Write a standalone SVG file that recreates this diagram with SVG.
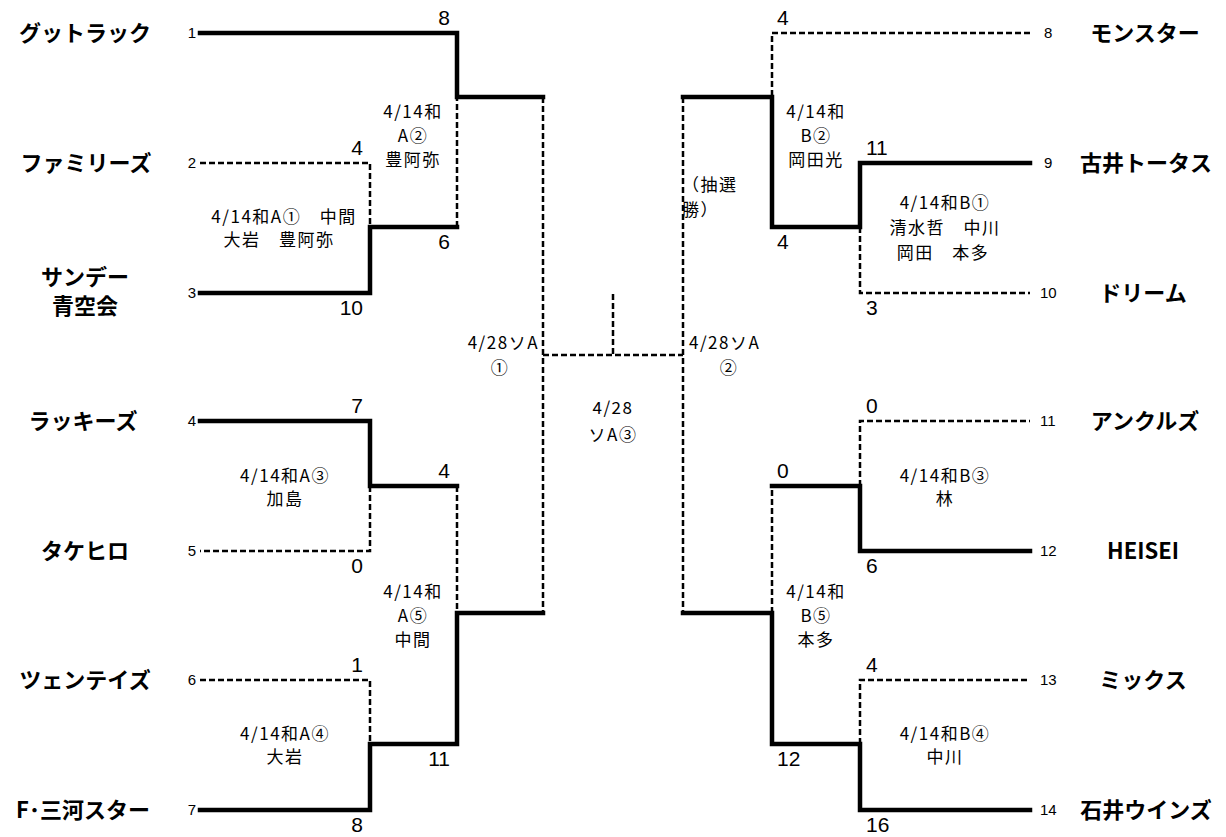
<svg xmlns="http://www.w3.org/2000/svg" width="1226" height="837" viewBox="0 0 1226 837">
<style>
.thick{fill:none;stroke:#000;stroke-width:4.5;stroke-linejoin:miter;stroke-linecap:square}
.dash{fill:none;stroke:#000;stroke-width:2.5;stroke-dasharray:6 3}
.team{font-family:"Noto Sans CJK JP","Noto Sans",sans-serif;font-weight:bold;font-size:22px;text-anchor:middle;fill:#000}
.seed{font-family:"Liberation Sans",Arial,sans-serif;font-size:15px;fill:#000}
.score{font-family:"Liberation Sans",Arial,sans-serif;font-size:21px;fill:#000}
.lbl{font-family:"Noto Sans CJK JP","Noto Sans",sans-serif;font-size:17px;text-anchor:middle;fill:#000;letter-spacing:1.5px}
.l{text-anchor:end}
.r{text-anchor:start}
</style>
<rect width="1226" height="837" fill="#fff"/>
<g id="connectors">
<path class="thick" d="M200 33 H457 V97 H543"/>
<path class="dash" d="M200 163 H370 V227"/>
<path class="thick" d="M200 293 H370 V227 H457"/>
<path class="dash" d="M457 227 V97"/>
<path class="dash" d="M543 97 V613"/>
<path class="thick" d="M200 421 H370 V486 H457"/>
<path class="dash" d="M370 486 V551 H200"/>
<path class="dash" d="M457 486 V613"/>
<path class="thick" d="M543 613 H457 V744 H370 V810 H200"/>
<path class="dash" d="M200 680 H370 V744"/>
<path class="dash" d="M543 355 H683"/>
<path class="dash" d="M613 294 V355"/>
<path class="dash" d="M1030 33 H772 V97"/>
<path class="thick" d="M683 97 H772 V227 H860 V163 H1030"/>
<path class="dash" d="M860 227 V293 H1030"/>
<path class="dash" d="M683 97 V613"/>
<path class="thick" d="M683 613 H772 V744 H860 V810 H1030"/>
<path class="dash" d="M772 613 V486"/>
<path class="thick" d="M772 486 H860 V551 H1030"/>
<path class="dash" d="M860 486 V421 H1030"/>
<path class="dash" d="M860 744 V680 H1030"/>
</g>
<g id="team1"><text class="team" x="85" y="41">グットラック</text><text class="seed l" x="196" y="38">1</text></g>
<g id="team2"><text class="team" x="86" y="171">ファミリーズ</text><text class="seed l" x="196" y="168">2</text></g>
<g id="team3"><text class="team" x="85" y="285">サンデー</text><text class="team" x="85" y="314">青空会</text><text class="seed l" x="196" y="298">3</text></g>
<g id="team4"><text class="team" x="83" y="429">ラッキーズ</text><text class="seed l" x="196" y="426">4</text></g>
<g id="team5"><text class="team" x="85" y="559">タケヒロ</text><text class="seed l" x="196" y="556">5</text></g>
<g id="team6"><text class="team" x="85" y="688">ツェンテイズ</text><text class="seed l" x="196" y="685">6</text></g>
<g id="team7"><text class="team" x="83" y="818">F･三河スター</text><text class="seed l" x="196" y="815">7</text></g>
<g id="team8"><text class="team" x="1145" y="41">モンスター</text><text class="seed r" x="1044" y="38">8</text></g>
<g id="team9"><text class="team" x="1146" y="171">古井トータス</text><text class="seed r" x="1044" y="168">9</text></g>
<g id="team10"><text class="team" x="1143" y="301">ドリーム</text><text class="seed r" x="1040" y="298">10</text></g>
<g id="team11"><text class="team" x="1145" y="429">アンクルズ</text><text class="seed r" x="1040" y="426">11</text></g>
<g id="team12"><text class="team" x="1143" y="559">HEISEI</text><text class="seed r" x="1040" y="556">12</text></g>
<g id="team13"><text class="team" x="1143" y="688">ミックス</text><text class="seed r" x="1040" y="685">13</text></g>
<g id="team14"><text class="team" x="1146" y="818">石井ウインズ</text><text class="seed r" x="1040" y="815">14</text></g>
<g id="scores">
<text class="score l" x="450" y="25">8</text>
<text class="score l" x="363" y="155">4</text>
<text class="score l" x="450" y="249">6</text>
<text class="score l" x="363" y="315">10</text>
<text class="score l" x="363" y="413">7</text>
<text class="score l" x="450" y="478">4</text>
<text class="score l" x="363" y="573">0</text>
<text class="score l" x="363" y="672">1</text>
<text class="score l" x="450" y="766">11</text>
<text class="score l" x="363" y="832">8</text>
<text class="score r" x="777" y="25">4</text>
<text class="score r" x="866" y="155">11</text>
<text class="score r" x="777" y="249">4</text>
<text class="score r" x="866" y="315">3</text>
<text class="score r" x="866" y="413">0</text>
<text class="score r" x="777" y="478">0</text>
<text class="score r" x="866" y="573">6</text>
<text class="score r" x="866" y="672">4</text>
<text class="score r" x="777" y="766">12</text>
<text class="score r" x="866" y="832">16</text>
</g>
<g id="matchA1"><text class="lbl" x="284" y="223">4/14和A①　中間</text><text class="lbl" x="279" y="246">大岩　豊阿弥</text></g>
<g id="matchA2"><text class="lbl" x="413" y="118">4/14和</text><text class="lbl" x="413" y="142">A②</text><text class="lbl" x="413" y="166">豊阿弥</text></g>
<g id="matchA3"><text class="lbl" x="285" y="482">4/14和A③</text><text class="lbl" x="285" y="505">加島</text></g>
<g id="matchA4"><text class="lbl" x="285" y="740">4/14和A④</text><text class="lbl" x="285" y="763">大岩</text></g>
<g id="matchA5"><text class="lbl" x="413" y="598">4/14和</text><text class="lbl" x="413" y="622">A⑤</text><text class="lbl" x="413" y="646">中間</text></g>
<g id="matchB1"><text class="lbl" x="945" y="209">4/14和B①</text><text class="lbl" x="945" y="234">清水哲　中川</text><text class="lbl" x="943" y="259">岡田　本多</text></g>
<g id="matchB2"><text class="lbl" x="816" y="118">4/14和</text><text class="lbl" x="816" y="142">B②</text><text class="lbl" x="816" y="166">岡田光</text></g>
<g id="matchB3"><text class="lbl" x="945" y="482">4/14和B③</text><text class="lbl" x="945" y="505">林</text></g>
<g id="matchB4"><text class="lbl" x="945" y="740">4/14和B④</text><text class="lbl" x="945" y="763">中川</text></g>
<g id="matchB5"><text class="lbl" x="816" y="598">4/14和</text><text class="lbl" x="816" y="622">B⑤</text><text class="lbl" x="816" y="646">本多</text></g>
<g id="lottery"><text class="lbl r" x="682" y="191">（抽選</text><text class="lbl r" x="682" y="216">勝）</text></g>
<g id="semi1"><text class="lbl l" x="539" y="349">4/28ソA</text><text class="lbl" x="500" y="374">①</text></g>
<g id="semi2"><text class="lbl r" x="689" y="349">4/28ソA</text><text class="lbl" x="729" y="374">②</text></g>
<g id="final"><text class="lbl" x="613" y="414">4/28</text><text class="lbl" x="613" y="441">ソA③</text></g>
</svg>
